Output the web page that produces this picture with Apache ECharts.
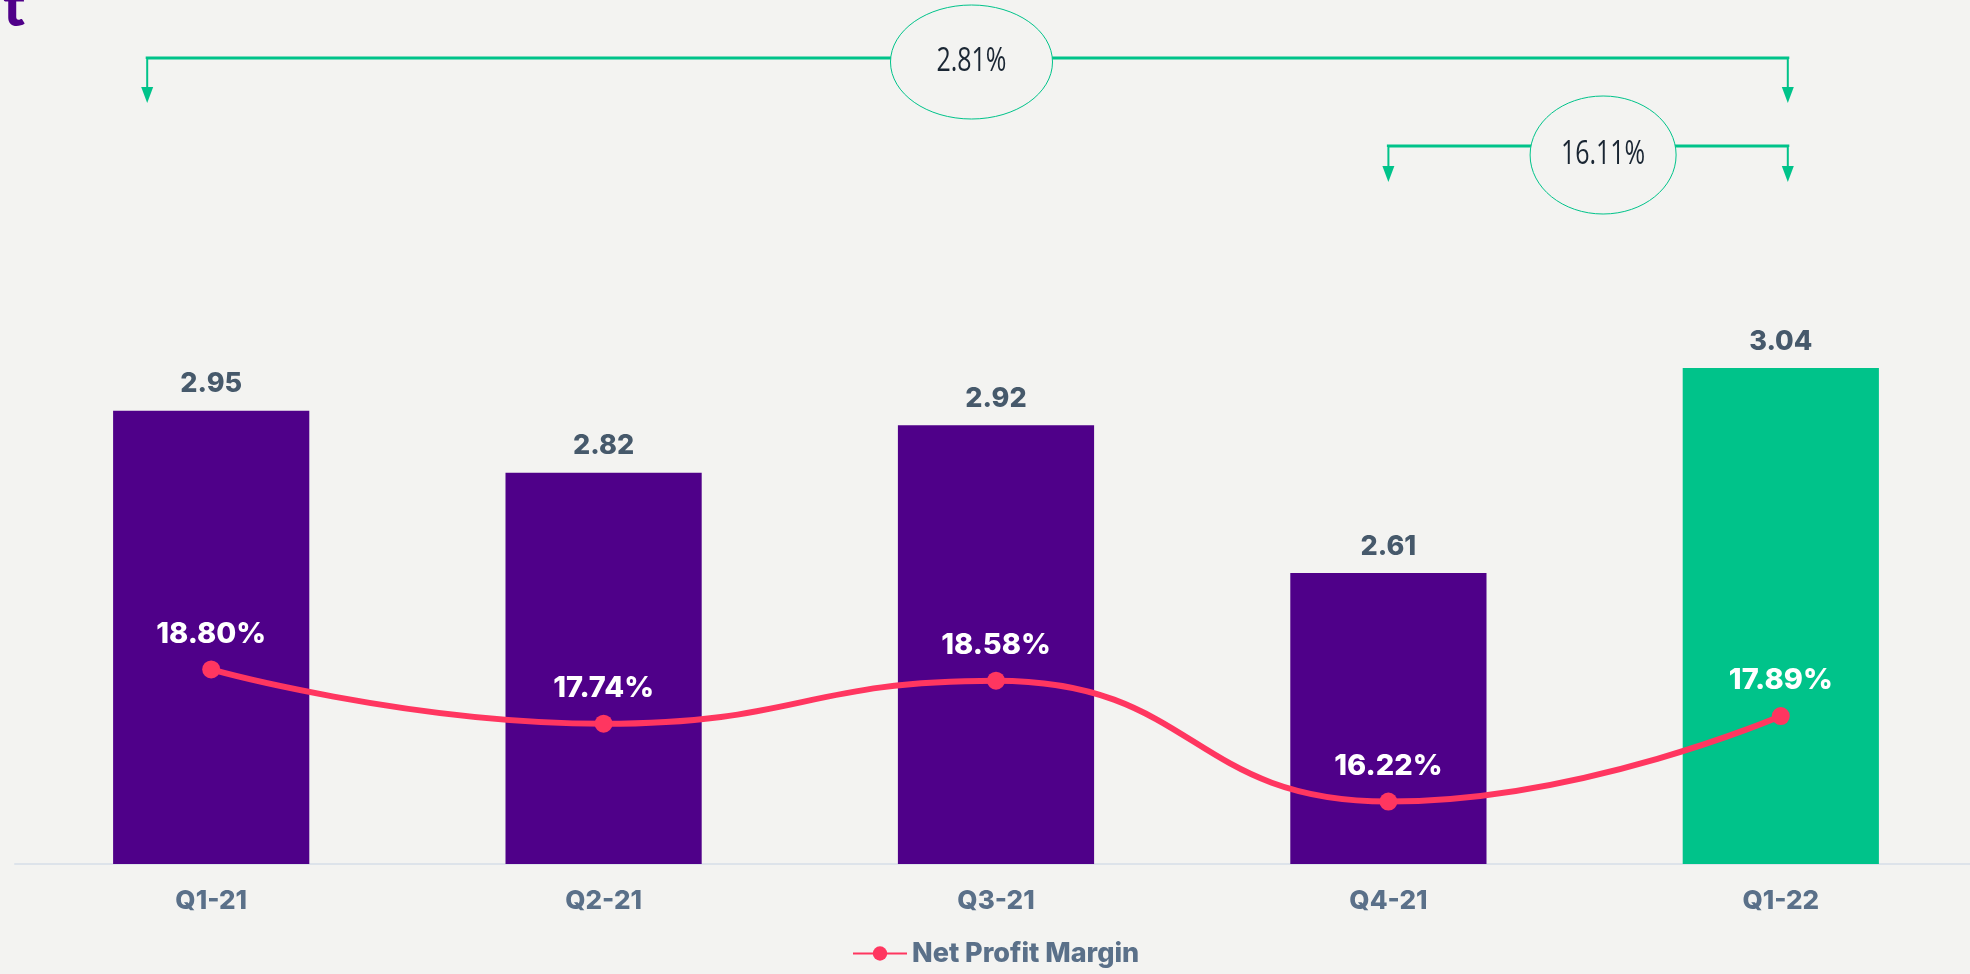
<!DOCTYPE html>
<html>
<head>
<meta charset="utf-8">
<script src="https://cdn.jsdelivr.net/npm/echarts@6/dist/echarts.min.js"></script>
<style>
html, body { margin: 0; padding: 0; background: #f3f3f1; overflow: hidden; }
#chart { width: 1977px; height: 974px; }
</style>
</head>
<body>
<div id="chart"></div>
<script>
// quarterly data
var quarters = ['Q1-21', 'Q2-21', 'Q3-21', 'Q4-21', 'Q1-22'];
var revenue = [2.95, 2.82, 2.92, 2.61, 3.04];
var netMargin = [18.80, 17.74, 18.58, 16.22, 17.89];

// change callouts above the bars
var changeLabels = ['2.81%', '16.11%'];
var changeFrom = ['Q1-21', 'Q4-21'];
var changeTo = ['Q1-22', 'Q1-22'];

var PURPLE = '#4f0089';
var GREEN = '#00c38a';
var PINK = '#ff3660';
var FONT = 'Inter';

var dom = document.getElementById('chart');
var chart = echarts.init(dom, null, { renderer: 'canvas' });

var option = {
    backgroundColor: '#f3f3f1',
    animation: false,
    grid: { left: 15, right: 0, top: 96, bottom: 110 },
    legend: {
        bottom: 2,
        left: 847,
        itemWidth: 54,
        itemHeight: 18,
        itemGap: 5,
        data: ['Net Profit Margin'],
        textStyle: { color: '#5a7089', fontSize: 27, fontWeight: 800, fontFamily: FONT }
    },
    xAxis: {
        type: 'category',
        data: quarters,
        axisLine: { lineStyle: { color: '#dde3ea', width: 2 } },
        axisTick: { show: false },
        axisLabel: { color: '#5a7089', fontSize: 26, fontWeight: 800, fontFamily: FONT, margin: 24 }
    },
    yAxis: [
        { type: 'value', min: 2, max: 3.61, show: false, splitLine: { show: false } },
        { type: 'value', min: 15, max: 30, show: false, splitLine: { show: false } }
    ],
    series: [
        {
            name: 'Revenue',
            type: 'bar',
            data: revenue,
            barWidth: '50%',
            itemStyle: {
                color: function(p) { return p.dataIndex == revenue.length - 1 ? GREEN : PURPLE; }
            },
            label: {
                show: true,
                position: 'top',
                distance: 13,
                color: '#46596b',
                fontSize: 27,
                fontWeight: 800,
                fontFamily: FONT
            }
        },
        {
            name: 'Net Profit Margin',
            type: 'line',
            yAxisIndex: 1,
            data: netMargin,
            smooth: true,
            symbol: 'circle',
            symbolSize: 18,
            lineStyle: { color: PINK, width: 6 },
            itemStyle: { color: PINK },
            label: {
                show: true,
                position: 'top',
                distance: 12,
                color: '#ffffff',
                fontSize: 29,
                fontWeight: 800,
                fontFamily: FONT,
                formatter: function(p) { return p.value.toFixed(2) + '%'; }
            }
        }
    ]
};
chart.setOption(option);

// build callouts from axis positions
var graphics = [];
var rows = [
    { lineY: 58, tipY: 103, rx: 81, ry: 57 },
    { lineY: 146, tipY: 182, rx: 73, ry: 59 }
];
function arrowDown(x, y0, tip) {
    graphics.push({
        type: 'line',
        shape: { x1: x, y1: y0, x2: x, y2: tip - 14 },
        style: { stroke: GREEN, lineWidth: 2 }
    });
    graphics.push({
        type: 'polygon',
        shape: { points: [[x - 6, tip - 16], [x + 6, tip - 16], [x, tip]] },
        style: { fill: GREEN }
    });
}
for (var i = 0; i < changeLabels.length; i++) {
    var r = rows[i];
    var xa = chart.convertToPixel({ xAxisIndex: 0 }, changeFrom[i]) - (i == 0 ? 64 : 0);
    var xb = chart.convertToPixel({ xAxisIndex: 0 }, changeTo[i]) + 7;
    var cx = (xa + xb) / 2 + (i == 0 ? 4 : 15);
    var cy = r.lineY + (i == 0 ? 4 : 9);
    graphics.push({
        type: 'polyline',
        shape: { points: [[xa, r.lineY + 1], [xa, r.lineY], [xb, r.lineY], [xb, r.lineY + 1]] },
        style: { stroke: GREEN, lineWidth: 3, fill: null }
    });
    arrowDown(xa, r.lineY, r.tipY);
    arrowDown(xb, r.lineY, r.tipY);
    graphics.push({
        type: 'ellipse',
        shape: { cx: cx, cy: cy, rx: r.rx, ry: r.ry },
        style: { fill: '#f3f3f1', stroke: GREEN, lineWidth: 1 }
    });
    graphics.push({
        type: 'text',
        x: cx,
        y: cy,
        scaleX: 0.78,
        style: {
            text: changeLabels[i],
            fill: '#1a2633',
            font: '32px "Open Sans", sans-serif',
            align: 'center',
            verticalAlign: 'middle'
        }
    });
}
// logo mark, cut by the top edge
graphics.push({
    type: 'text',
    x: 3,
    y: -22,
    style: { text: 't', fill: PURPLE, font: '900 58px Lato' }
});
chart.setOption({ graphic: graphics });
</script>
</body>
</html>
